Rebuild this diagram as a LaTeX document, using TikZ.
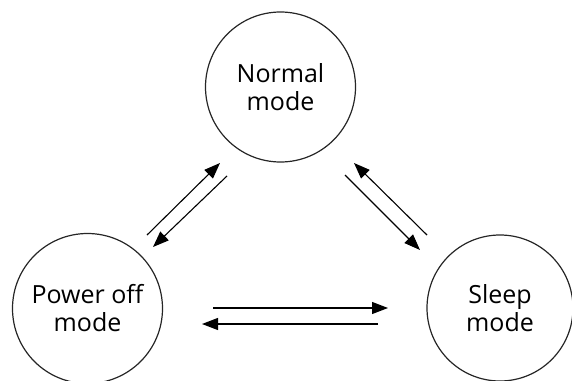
\documentclass[tikz,border=0pt]{standalone}
\usepackage{fontspec}
\setmainfont{Open Sans}
\usetikzlibrary{arrows.meta}
\begin{document}
\begin{tikzpicture}[x=1pt,y=-1pt,
  state/.style={circle,draw=black!85,line width=1.2pt,inner sep=0pt,
    align=center,font=\fontsize{25}{28}\selectfont},
  trans/.style={line width=1.1pt,-{Triangle[length=16pt,width=12pt]}}]
\useasboundingbox (0,0) rectangle (572,380);

% three operating modes
\node[state,minimum size=150pt] (normal) at (280.5,87) {Normal\\mode};
\node[state,minimum size=150pt] (poweroff) at (87.5,308.5) {Power off\\mode};
\node[state,minimum size=146pt] (sleep) at (500,308) {Sleep\\mode};

% end points of the transition arrows
\coordinate (pn1) at (147,235);  \coordinate (pn2) at (220,163);
\coordinate (np1) at (227,176);  \coordinate (np2) at (153,247);
\coordinate (sn1) at (427,235);  \coordinate (sn2) at (354,163);
\coordinate (ns1) at (345,175);  \coordinate (ns2) at (420,250);
\coordinate (ps1) at (213,308);  \coordinate (ps2) at (388,308);
\coordinate (sp1) at (378,324);  \coordinate (sp2) at (202,324);

% transitions
\draw[trans] (pn1) -- (pn2);
\draw[trans] (np1) -- (np2);
\draw[trans] (sn1) -- (sn2);
\draw[trans] (ns1) -- (ns2);
\draw[trans] (ps1) -- (ps2);
\draw[trans] (sp1) -- (sp2);
\end{tikzpicture}
\end{document}
